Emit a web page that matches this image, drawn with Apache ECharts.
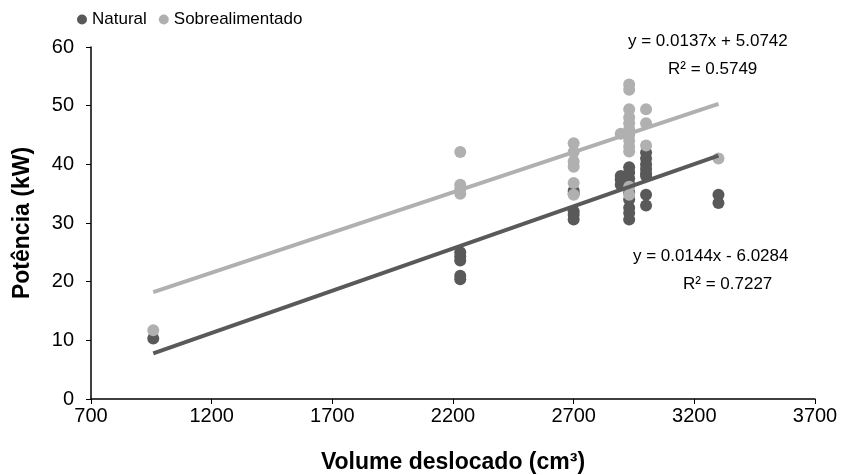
<!DOCTYPE html>
<html>
<head>
<meta charset="utf-8">
<script src="https://cdn.jsdelivr.net/npm/echarts@6/dist/echarts.min.js"></script>
<style>
  html, body { margin: 0; padding: 0; background: #fff; }
  #chart { width: 860px; height: 475px; }
</style>
</head>
<body>
<div id="chart"></div>
<script>
// valores (volume cm3, potência kW)
const naturalPts = [
  [958, 10.3],
  [2230, 25.0], [2230, 24.3], [2230, 23.6], [2230, 21.0], [2230, 20.4],
  [2700, 35.5], [2700, 35.0], [2700, 32.0], [2700, 31.4], [2700, 30.6],
  [2895, 38.0], [2895, 37.4], [2895, 36.5],
  [2930, 39.5], [2930, 38.6], [2930, 37.6], [2930, 36.6], [2930, 35.2], [2930, 34.0], [2930, 32.6], [2930, 31.7], [2930, 30.6],
  [3000, 42.0], [3000, 41.0], [3000, 40.0], [3000, 39.2], [3000, 38.5], [3000, 38.0], [3000, 34.8], [3000, 33.0],
  [3300, 34.8], [3300, 33.4]
];
const superPts = [
  [958, 11.7],
  [2230, 42.1], [2230, 36.5], [2230, 35.8], [2230, 35.0],
  [2700, 43.6], [2700, 42.1], [2700, 40.5], [2700, 39.6], [2700, 36.8], [2700, 34.8],
  [2895, 45.2],
  [2930, 53.6], [2930, 52.7], [2930, 49.4], [2930, 48.0], [2930, 47.0], [2930, 46.0], [2930, 45.0], [2930, 44.0], [2930, 43.0], [2930, 42.2], [2930, 36.2], [2930, 34.8],
  [3000, 49.4], [3000, 47.0], [3000, 43.2],
  [3300, 41.0]
];
// linhas de tendência (extremos)
const trendNatural = [[958, 7.77], [3300, 41.49]];
const trendSuper = [[958, 18.2], [3300, 50.3]];
const xTicks = [700, 1200, 1700, 2200, 2700, 3200, 3700];
const seriesNames = ['Natural', 'Sobrealimentado'];
const eqSuper = ['y = 0.0137x + 5.0742', 'R² = 0.5749'];
const eqNatural = ['y = 0.0144x - 6.0284', 'R² = 0.7227'];

const dark = '#595959';
const light = '#B0B0B0';
const font = 'Liberation Sans, Arial, sans-serif';
const eqFont = '17px ' + font;

let myChart = echarts.init(document.getElementById('chart'));
let option = {
  animation: false,
  textStyle: { fontFamily: font },
  legend: {
    data: seriesNames,
    left: 72, top: 6,
    icon: 'circle', itemWidth: 10, itemHeight: 10, itemGap: 12,
    textStyle: { fontSize: 17, color: '#000', fontFamily: font }
  },
  grid: { left: 91, right: 45, top: 47, bottom: 76, outerBoundsMode: 'none', containLabel: false },
  xAxis: {
    type: 'value', min: 700, max: 3700,
    name: 'Volume deslocado (cm³)', nameLocation: 'middle', nameGap: 52,
    nameTextStyle: { fontSize: 23, fontWeight: 'bold', color: '#000', fontFamily: font },
    axisLine: { onZero: false, lineStyle: { color: '#000', width: 1.5 } },
    axisTick: { show: true, length: 5, customValues: xTicks, lineStyle: { color: '#000' } },
    axisLabel: {
      customValues: xTicks, fontSize: 20, color: '#000', margin: 7, fontFamily: font,
      formatter: v => String(v)
    },
    splitLine: { show: false }
  },
  yAxis: {
    type: 'value', min: 0, max: 60, interval: 10,
    name: 'Potência (kW)', nameLocation: 'middle', nameGap: 57,
    nameTextStyle: { fontSize: 23, fontWeight: 'bold', color: '#000', fontFamily: font },
    axisLine: { show: true, lineStyle: { color: '#000', width: 1.5 } },
    axisTick: { show: true, length: 5, lineStyle: { color: '#000' } },
    axisLabel: { fontSize: 20, color: '#000', margin: 17, fontFamily: font },
    splitLine: { show: false }
  },
  graphic: [
    { type: 'text', left: 628, top: 33, style: { text: eqSuper[0], fill: '#000', font: eqFont } },
    { type: 'text', left: 668, top: 61, style: { text: eqSuper[1], fill: '#000', font: eqFont } },
    { type: 'text', left: 633, top: 248, style: { text: eqNatural[0], fill: '#000', font: eqFont } },
    { type: 'text', left: 683, top: 276, style: { text: eqNatural[1], fill: '#000', font: eqFont } }
  ],
  series: [
    {
      name: seriesNames[0], type: 'scatter', data: naturalPts,
      symbolSize: 12, itemStyle: { color: dark, opacity: 1 }, z: 2
    },
    {
      name: seriesNames[1], type: 'scatter', data: superPts,
      symbolSize: 12, itemStyle: { color: light, opacity: 1 }, z: 2
    },
    {
      name: 'tendência natural', type: 'line', data: trendNatural,
      showSymbol: false, silent: true, z: 3,
      lineStyle: { color: dark, width: 4 }, itemStyle: { color: dark }
    },
    {
      name: 'tendência sobre', type: 'line', data: trendSuper,
      showSymbol: false, silent: true, z: 3,
      lineStyle: { color: light, width: 4 }, itemStyle: { color: light }
    }
  ]
};
option && myChart.setOption(option);
</script>
</body>
</html>
